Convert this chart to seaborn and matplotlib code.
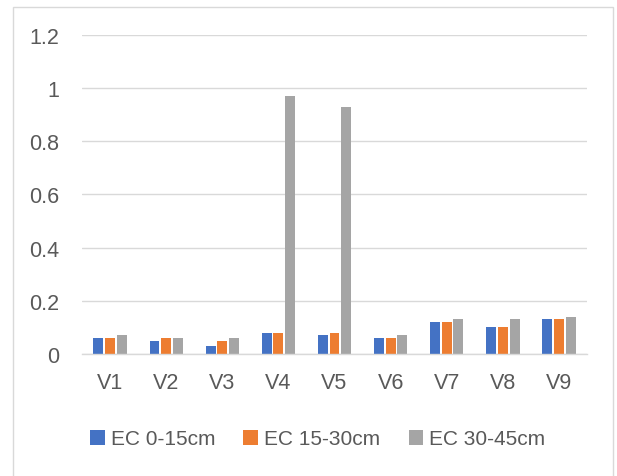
import matplotlib
matplotlib.use("Agg")
import matplotlib.pyplot as plt
from matplotlib.patches import Rectangle
import seaborn as sns
import pandas as pd

# Electrical conductivity by variety and soil depth
varieties = ["V1", "V2", "V3", "V4", "V5", "V6", "V7", "V8", "V9"]
depths = ["EC 0-15cm", "EC 15-30cm", "EC 30-45cm"]
ec_0_15 = [0.06, 0.05, 0.03, 0.08, 0.07, 0.06, 0.12, 0.10, 0.13]
ec_15_30 = [0.06, 0.06, 0.05, 0.08, 0.08, 0.06, 0.12, 0.10, 0.13]
ec_30_45 = [0.07, 0.06, 0.06, 0.97, 0.93, 0.07, 0.13, 0.13, 0.14]
y_ticks = [0, 0.2, 0.4, 0.6, 0.8, 1, 1.2]
y_tick_labels = ["0", "0.2", "0.4", "0.6", "0.8", "1", "1.2"]

colors = ["#4472C4", "#ED7D31", "#A5A5A5"]
text_color = "#595959"
grid_color = "#D9D9D9"

df = pd.DataFrame({
    "variety": varieties * 3,
    "depth": [depths[0]] * 9 + [depths[1]] * 9 + [depths[2]] * 9,
    "ec": ec_0_15 + ec_15_30 + ec_30_45,
})

sns.set_theme(style="white")
plt.rcParams["font.family"] = ["Liberation Sans", "DejaVu Sans"]

fig = plt.figure(figsize=(6.17, 4.77), dpi=100)
ax = fig.add_axes([0.1329, 0.2558, 0.9514 - 0.1329, 0.9245 - 0.2558])

sns.barplot(data=df, x="variety", y="ec", hue="depth", palette=colors,
            width=0.625, gap=0.15, ax=ax, errorbar=None,
            linewidth=0, edgecolor="none", saturation=1)

ax.set_ylim(0, 1.2)
ax.set_xlim(-0.5, len(varieties) - 0.5)
ax.set_yticks(y_ticks)
ax.set_yticklabels(y_tick_labels)
ax.set_xlabel("")
ax.set_ylabel("")
ax.grid(axis="y", color=grid_color, linewidth=1.0)
ax.grid(axis="x", visible=False)
ax.set_axisbelow(True)
for side in ["top", "right", "left"]:
    ax.spines[side].set_visible(False)
ax.spines["bottom"].set_color(grid_color)
ax.spines["bottom"].set_linewidth(1.0)
ax.tick_params(axis="both", length=0, labelsize=15.5, colors=text_color)
ax.tick_params(axis="y", pad=16.5)
ax.tick_params(axis="x", pad=13)

handles, labels = ax.get_legend_handles_labels()
ax.get_legend().remove()
fig.legend(handles, labels, loc="center", bbox_to_anchor=(0.515, 1 - 440 / 477),
           ncol=3, frameon=False, fontsize=15, labelcolor=text_color,
           handlelength=0.7, handleheight=0.7, handletextpad=0.3,
           columnspacing=1.35, borderaxespad=0)

# chart area frame
fig.patches.append(Rectangle((12.5 / 617, -0.05), (613 - 12.5) / 617, 1 - 8 / 477 + 0.05,
                             transform=fig.transFigure, fill=False,
                             edgecolor=grid_color, linewidth=1.0))

fig.savefig("out.png", dpi=100)
